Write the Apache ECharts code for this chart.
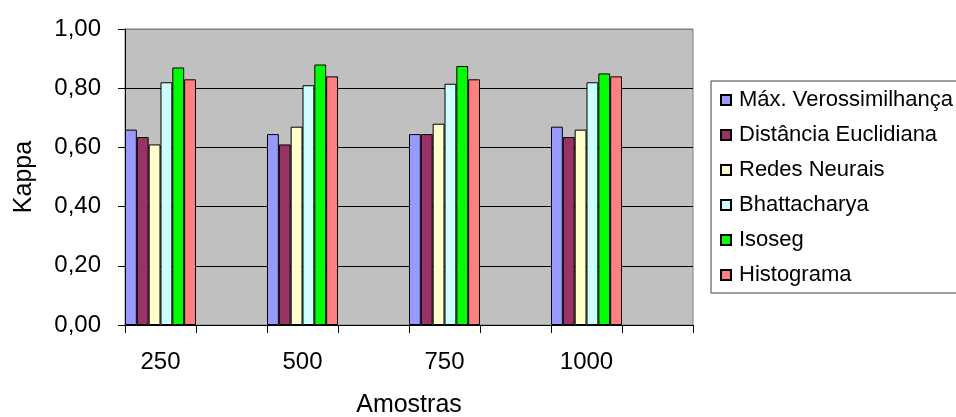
<!DOCTYPE html>
<html>
<head>
<meta charset="utf-8">
<script src="https://cdn.jsdelivr.net/npm/echarts@6/dist/echarts.min.js"></script>
<style>
  html, body { margin: 0; padding: 0; background: #ffffff; }
  #chart { width: 956px; height: 417px; }
</style>
</head>
<body>
<div id="chart"></div>
<script>
// Sample sizes; blank slots leave a gap after each group of bars
const categories = ['250', '', '500', '', '750', '', '1000', ''];

// Kappa per method, one value per sample size (250, 500, 750, 1000)
const maxVerossimilhanca = [0.66, 0.645, 0.645, 0.67];
const distanciaEuclidiana = [0.635, 0.61, 0.645, 0.635];
const redesNeurais = [0.61, 0.67, 0.68, 0.66];
const bhattacharya = [0.82, 0.81, 0.815, 0.82];
const isoseg = [0.87, 0.88, 0.875, 0.85];
const histograma = [0.83, 0.84, 0.83, 0.84];

const yTicks = [0, 0.2, 0.4, 0.6, 0.8, 1.0];

const FONT = 'Liberation Sans, Arial, sans-serif';

// Spread the four values over the eight slots (odd slots stay empty)
function spread(values) {
  const out = [];
  values.forEach(v => { out.push(v); out.push(null); });
  return out;
}

const methods = [
  { name: 'Máx. Verossimilhança', data: maxVerossimilhanca, color: '#9999ff' },
  { name: 'Distância Euclidiana', data: distanciaEuclidiana, color: '#993366' },
  { name: 'Redes Neurais', data: redesNeurais, color: '#ffffcc' },
  { name: 'Bhattacharya', data: bhattacharya, color: '#ccffff' },
  { name: 'Isoseg', data: isoseg, color: '#00ff00' },
  { name: 'Histograma', data: histograma, color: '#ff8080' }
];

const chart = echarts.init(document.getElementById('chart'), null, { renderer: 'canvas' });

chart.setOption({
  animation: false,
  backgroundColor: '#ffffff',
  textStyle: { fontFamily: FONT },
  grid: {
    left: 125, right: 263, top: 29, bottom: 92,
    containLabel: false,
    outerBoundsMode: 'none',
    show: true,
    backgroundColor: '#c0c0c0',
    borderColor: '#808080',
    borderWidth: 1
  },
  legend: {
    orient: 'vertical',
    left: 711,
    top: 81,
    padding: [8, 60, 7, 9],
    itemWidth: 10,
    itemHeight: 10,
    itemGap: 13,
    icon: 'rect',
    borderColor: '#404040',
    borderWidth: 1,
    backgroundColor: '#ffffff',
    textStyle: { fontFamily: FONT, fontSize: 22, lineHeight: 22, color: '#000', padding: [0, 0, 0, 3] },
    data: methods.map(m => m.name)
  },
  xAxis: {
    type: 'category',
    data: categories,
    boundaryGap: true,
    name: 'Amostras',
    nameLocation: 'middle',
    nameGap: 68,
    nameTextStyle: { fontFamily: FONT, fontSize: 25, color: '#000' },
    axisLine: { lineStyle: { color: '#000', width: 1 } },
    axisTick: { show: true, interval: 0, length: 8, lineStyle: { color: '#000' } },
    axisLabel: { interval: 0, fontFamily: FONT, fontSize: 24, color: '#000', margin: 25 },
    splitLine: { show: false }
  },
  yAxis: {
    type: 'value',
    min: yTicks[0],
    max: yTicks[yTicks.length - 1],
    interval: 0.2,
    name: 'Kappa',
    nameLocation: 'middle',
    nameRotate: 90,
    nameGap: 88,
    nameTextStyle: { fontFamily: FONT, fontSize: 25, color: '#000' },
    axisLine: { show: true, lineStyle: { color: '#000', width: 1 } },
    axisTick: { show: true, length: 7, lineStyle: { color: '#000' } },
    axisLabel: {
      fontFamily: FONT, fontSize: 24, color: '#000', margin: 24,
      formatter: v => v.toFixed(2).replace('.', ',')
    },
    splitLine: {
      show: true,
      lineStyle: { color: ['#000', '#000', '#000', '#000', '#000', '#808080'], width: 1 }
    }
  },
  series: methods.map(m => ({
    name: m.name,
    type: 'bar',
    data: spread(m.data),
    barGap: '0%',
    barCategoryGap: '0%',
    itemStyle: { color: m.color, borderColor: '#000', borderWidth: 1 }
  }))
});
</script>
</body>
</html>
